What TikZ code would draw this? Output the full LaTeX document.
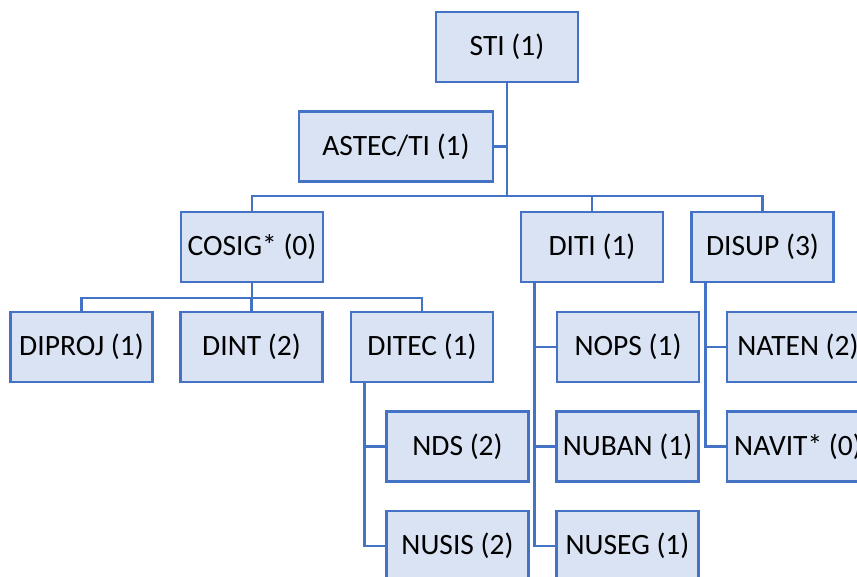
\documentclass[tikz,border=0pt]{standalone}
\usepackage{fontspec}
\setmainfont{Carlito}
\definecolor{bord}{HTML}{4472C4}
\definecolor{boxfill}{HTML}{DAE3F3}
\begin{document}
\begin{tikzpicture}[x=1pt,y=-1pt,
  box/.style={draw=bord,fill=boxfill,line width=2.8pt,minimum width=142pt,minimum height=70pt,inner sep=0pt,font=\fontsize{29.5}{31}\selectfont},
  conn/.style={draw=bord,line width=2.8pt}]
\useasboundingbox (0,0) rectangle (857,576);
\clip (0,0) rectangle (857,576);
\node[box] (STI) at (507,47) {STI (1)};
\node[box,minimum width=194pt] (ASTEC) at (396,146.5) {ASTEC/TI (1)};
\node[box] (COSIG) at (252,247) {COSIG* (0)};
\node[box] (DITI) at (592,247) {DITI (1)};
\node[box] (DISUP) at (762.5,247) {DISUP (3)};
\node[box] (DIPROJ) at (81.5,347) {DIPROJ (1)};
\node[box] (DINT) at (251.5,347) {DINT (2)};
\node[box] (DITEC) at (422,347) {DITEC (1)};
\node[box] (NOPS) at (628,347) {NOPS (1)};
\node[box] (NATEN) at (798,347) {NATEN (2)};
\node[box] (NDS) at (457.5,446.5) {NDS (2)};
\node[box] (NUSIS) at (457.5,546) {NUSIS (2)};
\node[box] (NUBAN) at (627.5,446.5) {NUBAN (1)};
\node[box] (NUSEG) at (627.5,546) {NUSEG (1)};
\node[box] (NAVIT) at (798,446.5) {NAVIT* (0)};
\coordinate (busA) at (0,196);
\coordinate (busB) at (0,298);
% top level
\draw[conn] (STI.south) -- (STI.south |- busA);
\draw[conn] (ASTEC.east) -- (ASTEC.east -| STI.south);
\draw[conn] (COSIG.north) -- (COSIG.north |- busA) -| (DISUP.north);
\draw[conn] (DITI.north) -- (DITI.north |- busA);
% COSIG children
\draw[conn] (COSIG.south) -- (COSIG.south |- busB);
\draw[conn] (DIPROJ.north) |- (busB -| DITEC.north) -- (DITEC.north);
\draw[conn] (DINT.north) -- (DINT.north |- busB);
% DITEC children
\draw[conn] ([xshift=15pt]DITEC.south west) |- (NUSIS.west);
\draw[conn] ([xshift=15pt]DITEC.south west) |- (NDS.west);
% DITI children
\draw[conn] ([xshift=15pt]DITI.south west) |- (NUSEG.west);
\draw[conn] ([xshift=15pt]DITI.south west) |- (NUBAN.west);
\draw[conn] ([xshift=15pt]DITI.south west) |- (NOPS.west);
% DISUP children
\draw[conn] ([xshift=15pt]DISUP.south west) |- (NAVIT.west);
\draw[conn] ([xshift=15pt]DISUP.south west) |- (NATEN.west);
\end{tikzpicture}
\end{document}
